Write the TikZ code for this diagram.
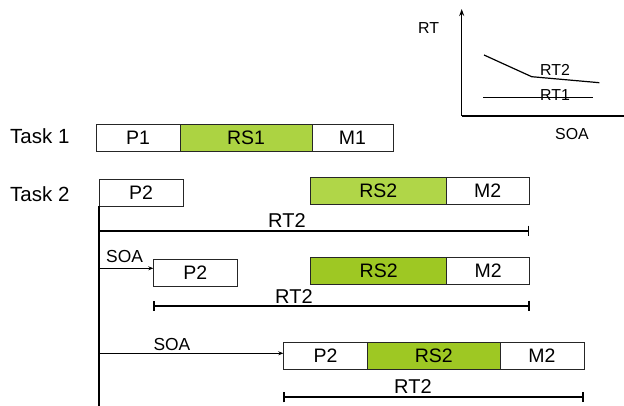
\documentclass[tikz,border=0pt]{standalone}
\usepackage{fontspec}
\setmainfont{Liberation Sans}
\usetikzlibrary{arrows.meta}
\definecolor{rsone}{RGB}{172,211,66}
\definecolor{rstwoa}{RGB}{176,214,72}
\definecolor{rstwo}{RGB}{158,200,35}
\tikzset{
  box/.style={draw=black!85, line width=0.9pt, inner sep=0pt, outer sep=0pt, anchor=north west,
    font=\fontsize{19.5}{20}\selectfont},
  tasklbl/.style={anchor=base west, inner sep=0pt, font=\fontsize{20.5}{22}\selectfont},
  soalbl/.style={anchor=base west, inner sep=0pt, font=\fontsize{17.4}{18}\selectfont},
  graphlbl/.style={anchor=base west, inner sep=0pt, font=\fontsize{15.9}{17}\selectfont},
  rtlbl/.style={anchor=base west, inner sep=0pt, font=\fontsize{20}{21}\selectfont},
  rtline/.style={line width=1.8pt, {Bar[width=10pt,line width=1.6pt]}-{Bar[width=10pt,line width=1.6pt]}},
  rtlineL/.style={line width=1.8pt, -{Bar[width=10pt,line width=1.6pt]}},
  soaarrow/.style={line width=0.9pt, -{Stealth[length=5pt,width=4pt]}},
  axis/.style={line width=1.3pt},
}
\begin{document}
\begin{tikzpicture}[x=1pt,y=-1pt]
\useasboundingbox[fill=white] (0,0) rectangle (624,406);

% graph
\coordinate (orig) at (461.7,116);
\coordinate (ytop) at (461.7,9);
\coordinate (xend) at (626,116);
\draw[axis,-{Stealth[length=7pt,width=5pt]}] (orig) -- (ytop);
\draw[axis] (orig) -- (xend);
\coordinate (c1) at (484,55);
\coordinate (c2) at (531.7,76.7);
\coordinate (c3) at (599.3,82.7);
\draw[line width=1.2pt] (c1) -- (c2) -- (c3);
\coordinate (r1a) at (483.3,97.3);
\coordinate (r1b) at (592.7,97.3);
\draw[line width=1.2pt] (r1a) -- (r1b);
\node[graphlbl] (gRT) at (418,33.3) {RT};
\node[graphlbl] (gRT2) at (540,76) {RT2};
\node[graphlbl] (gRT1) at (540,100.7) {RT1};
\node[graphlbl] (gSOA) at (555,140) {SOA};

% labels
\node[tasklbl] (t1) at (10,143.3) {Task 1};
\node[tasklbl] (t2) at (10,201.7) {Task 2};

% Task 1
\node[box, minimum width=84pt, minimum height=26.6pt] (P1) at (96,124.7) {P1};
\node[box, fill=rsone, minimum width=132pt, minimum height=26.6pt] (RS1) at (180,124.7) {RS1};
\node[box, minimum width=81pt, minimum height=26.6pt] (M1) at (312,124.7) {M1};

% Task 2 row 1
\node[box, minimum width=84pt, minimum height=26.7pt] (P2a) at (99,179.3) {P2};
\node[box, fill=rstwoa, minimum width=135.3pt, minimum height=27pt] (RS2a) at (310.7,177.3) {RS2};
\node[box, minimum width=83.3pt, minimum height=27pt] (M2a) at (446,177.3) {M2};
\coordinate (vbot) at (P2a.south west |- 0,406);
\draw[line width=1.8pt] (P2a.south west) -- (vbot);
\coordinate (rta0) at (99,230.7);
\coordinate (rta1) at (529.3,230.7);
\draw[rtlineL] (rta0) -- (rta1);
\node[rtlbl] (rtal) at (268,228) {RT2};

% row 2
\node[box, minimum width=84pt, minimum height=26.7pt] (P2b) at (153.3,259.3) {P2};
\node[box, fill=rstwo, minimum width=136pt, minimum height=26.3pt] (RS2b) at (310.7,257.7) {RS2};
\node[box, minimum width=83pt, minimum height=26.3pt] (M2b) at (446.7,257.7) {M2};
\coordinate (sb) at (99,268.3);
\draw[soaarrow] (sb) -- (P2b.west |- sb);
\node[soalbl] (soab) at (106,262.7) {SOA};
\coordinate (rtb0) at (153.3,305.7);
\coordinate (rtb1) at (529.7,305.7);
\draw[rtline] (rtb0) -- (rtb1);
\node[rtlbl] (rtbl) at (275,303) {RT2};

% row 3
\node[box, minimum width=84.4pt, minimum height=26.6pt] (P2c) at (283.3,342.7) {P2};
\node[box, fill=rstwo, minimum width=132.3pt, minimum height=26.6pt] (RS2c) at (367.7,342.7) {RS2};
\node[box, minimum width=84pt, minimum height=26.6pt] (M2c) at (500,342.7) {M2};
\coordinate (sc) at (99,353.3);
\draw[soaarrow] (sc) -- (P2c.west |- sc);
\node[soalbl] (soac) at (153.3,350) {SOA};
\coordinate (rtc0) at (283.3,397.3);
\coordinate (rtc1) at (584,397.3);
\draw[rtline] (rtc0) -- (rtc1);
\node[rtlbl] (rtcl) at (394,393) {RT2};
\end{tikzpicture}
\end{document}
